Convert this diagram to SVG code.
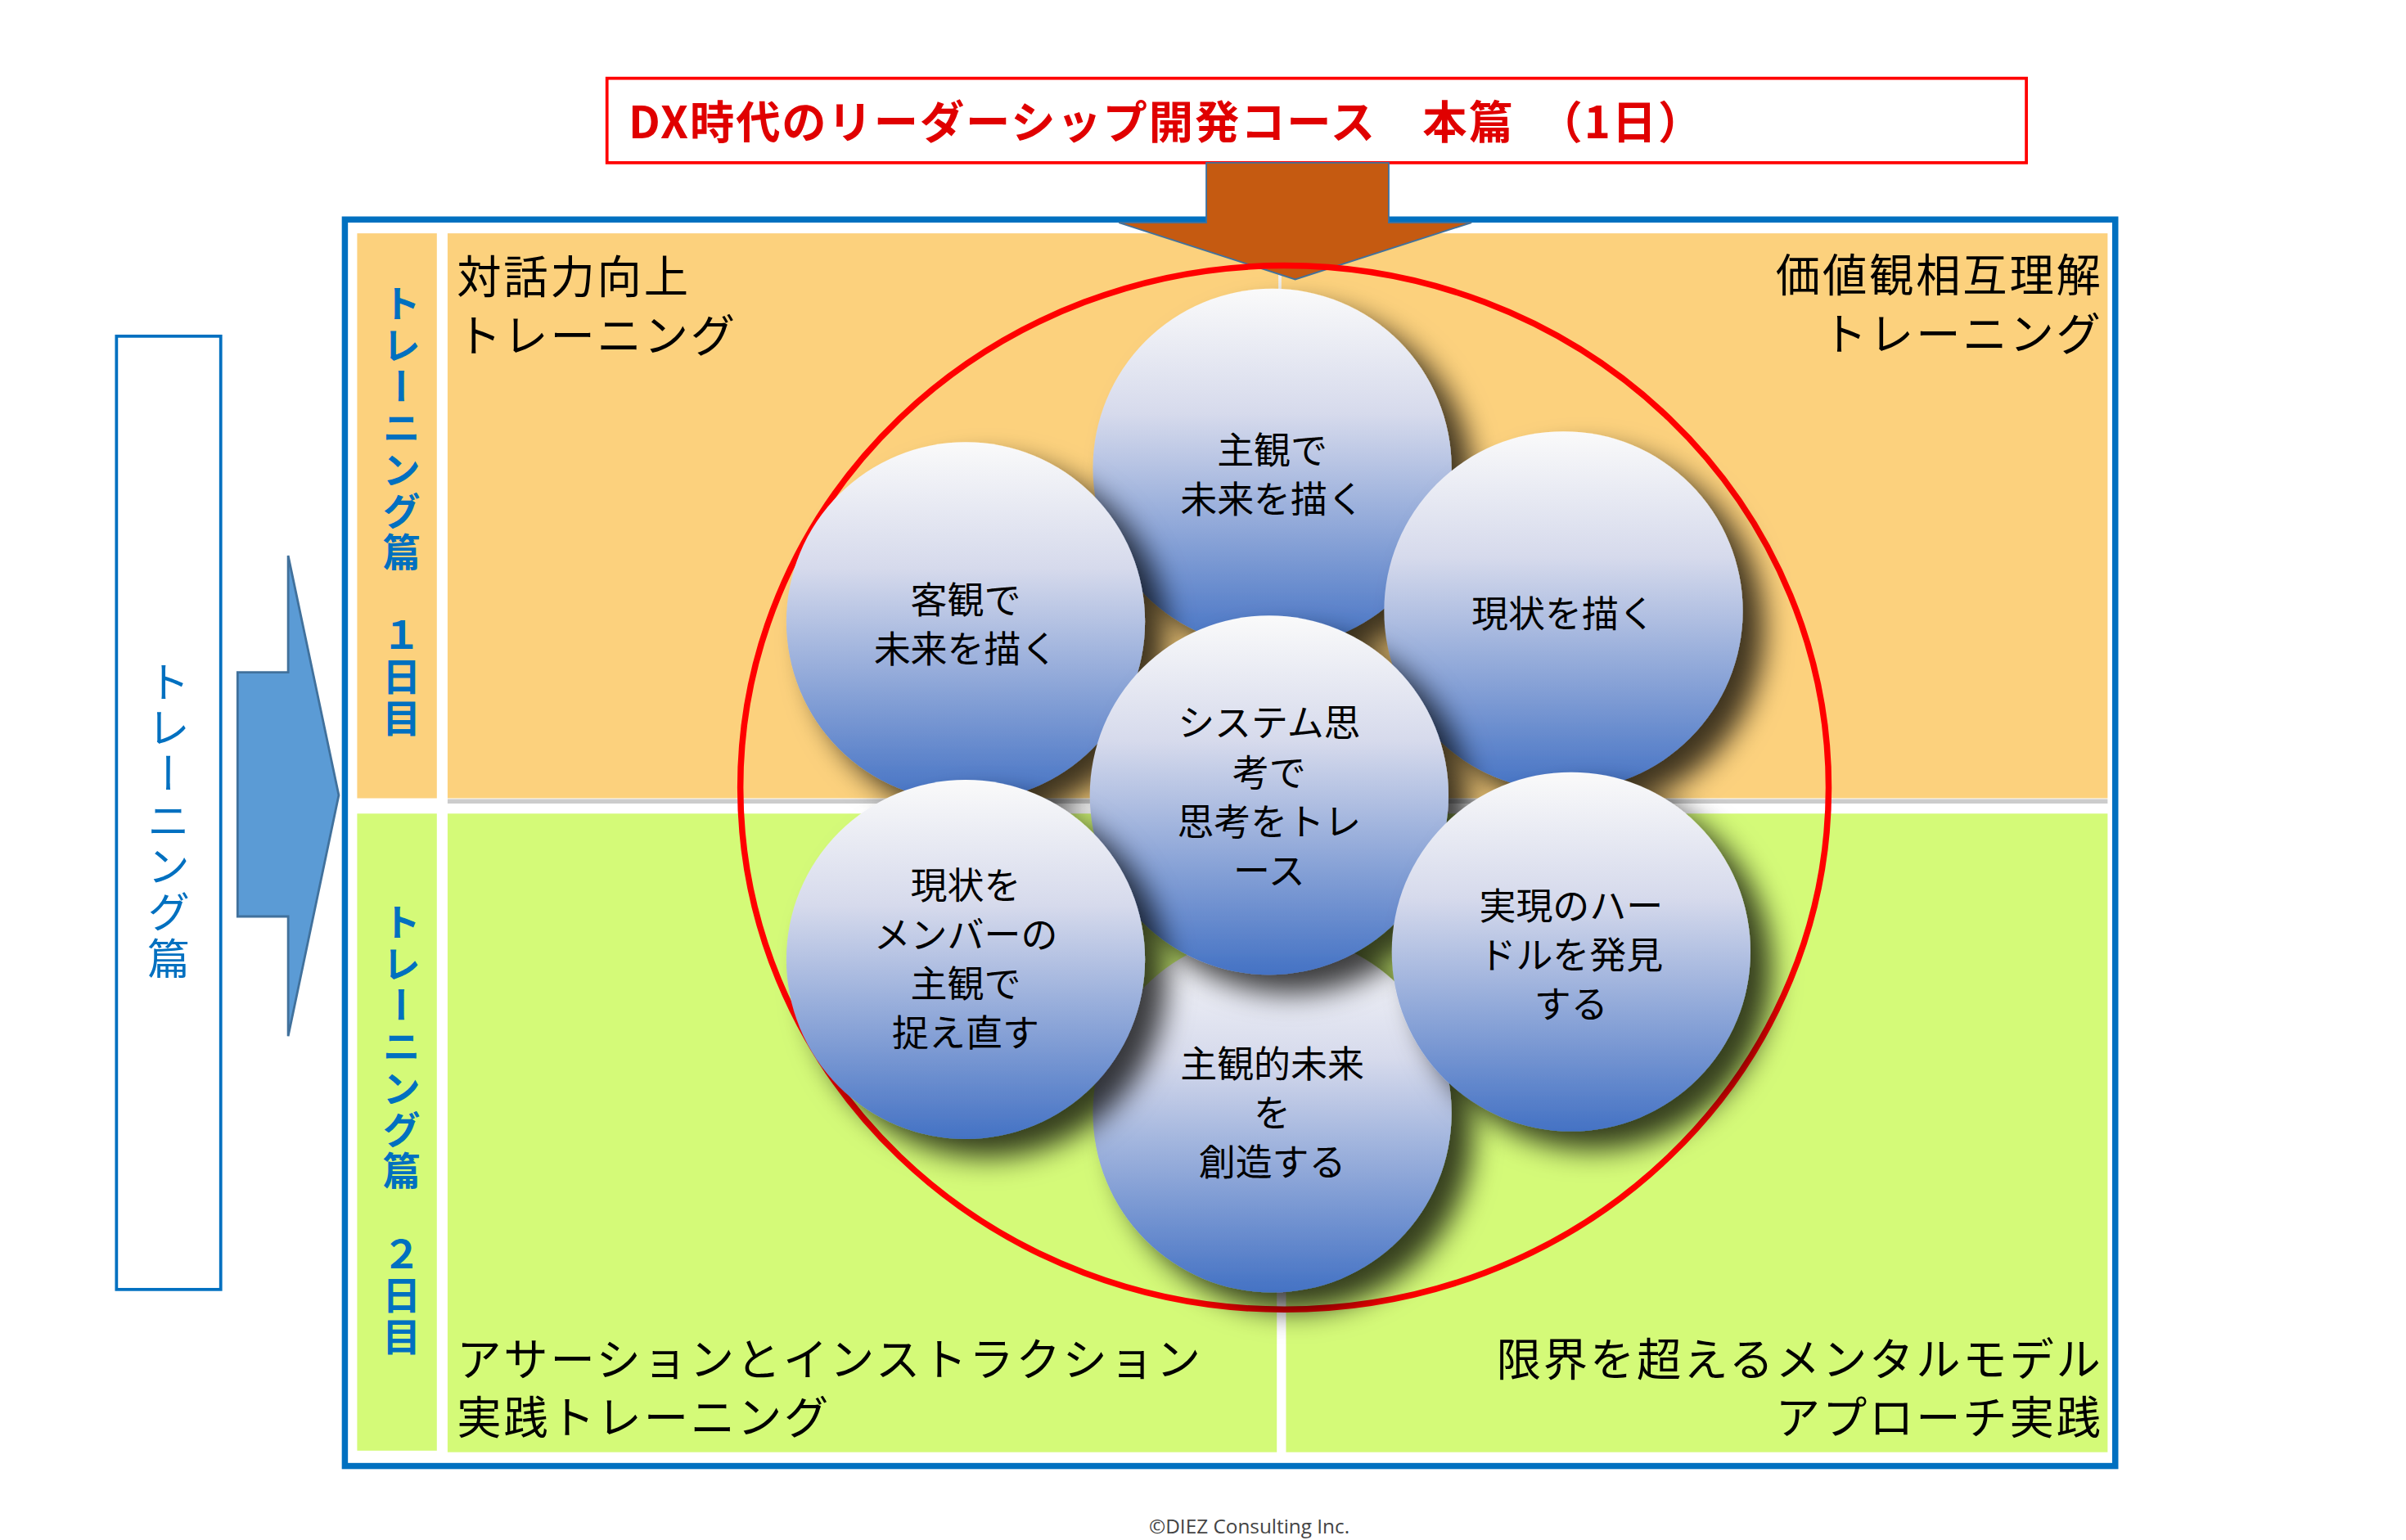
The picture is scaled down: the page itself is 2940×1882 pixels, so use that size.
<svg xmlns="http://www.w3.org/2000/svg" width="2940" height="1882" viewBox="0 0 2940 1882">
<defs>
<style>
.jp{font-family:"Noto Sans CJK JP","Noto Sans",sans-serif}
.q{font-size:29px;fill:#000;letter-spacing:1.5px}
.b{font-size:24px;fill:#000;text-anchor:middle}
.v{font-size:25px;font-weight:bold;fill:#0070C0;writing-mode:tb;letter-spacing:2px}
</style>
<linearGradient id="g" x1="0" y1="0" x2="0" y2="1">
<stop offset="0" stop-color="#FAFAFA"/><stop offset="0.35" stop-color="#D6DAEC"/><stop offset="1" stop-color="#4472C4"/>
</linearGradient>
<filter id="sh" x="-30%" y="-30%" width="170%" height="170%">
<feDropShadow dx="14" dy="12" stdDeviation="9" flood-color="#000" flood-opacity="0.75"/>
</filter>
</defs>
<rect width="2940" height="1882" fill="#fff"/>
<g transform="scale(1.873,1.876)">
<g id="frame">
<rect x="225" y="143" width="1155" height="812" fill="#fff" stroke="#0070C0" stroke-width="4"/>
<rect x="233" y="152" width="52" height="368" fill="#FCD17D"/>
<rect x="233" y="530" width="52" height="415" fill="#D4FA78"/>
<rect x="292" y="152" width="1083" height="368" fill="#FCD17D"/>
<rect x="292" y="530" width="541" height="416" fill="#D4FA78"/>
<rect x="839" y="530" width="536" height="416" fill="#D4FA78"/>
<line x1="292" y1="522" x2="1375" y2="522" stroke="#ccc" stroke-width="3"/>
<line x1="835" y1="152" x2="835" y2="520" stroke="#eee" stroke-width="2"/>
<text class="jp v" x="262" y="185">トレーニング篇　１日目</text>
<text class="jp v" x="262" y="588">トレーニング篇　２日目</text>
</g>
<g id="quadrant-labels" class="jp q">
<text x="298" y="191">対話力向上</text>
<text x="298" y="229">トレーニング</text>
<text x="1372" y="190" text-anchor="end">価値観相互理解</text>
<text x="1372" y="228" text-anchor="end">トレーニング</text>
<text x="298" y="896">アサーションとインストラクション</text>
<text x="298" y="934">実践トレーニング</text>
<text x="1372" y="896" text-anchor="end">限界を超えるメンタルモデル</text>
<text x="1372" y="934" text-anchor="end">アプローチ実践</text>
</g>
<g id="title">
<rect x="396" y="51" width="926" height="55" fill="#fff" stroke="#FF0000" stroke-width="2"/>
<text class="jp" x="410" y="90" font-size="29" font-weight="bold" fill="#E00000" letter-spacing="1">DX時代のリーダーシップ開発コース　本篇　（1日）</text>
</g>
<g id="down-arrow">
<polygon points="787,106 906,106 906,145 960,145 845,182 730,145 787,145" fill="#C55A11" stroke="#41719C" stroke-width="1"/>
</g>
<g id="left-box">
<rect x="76" y="219" width="68" height="621" fill="#fff" stroke="#0070C0" stroke-width="2"/>
<text class="jp" x="110" y="430" font-size="28" fill="#0070C0" style="writing-mode:tb" letter-spacing="2">トレーニング篇</text>
</g>
<g id="right-arrow">
<polygon points="155,438 188,438 188,362 221,518 188,675 188,597 155,597" fill="#5B9BD5" stroke="#41719C" stroke-width="1.5"/>
</g>
<g id="ring"><ellipse cx="838" cy="513" rx="355" ry="340" fill="none" stroke="#FF0000" stroke-width="4"/></g>
<g id="n-top"><circle cx="830" cy="305" r="117" fill="url(#g)" filter="url(#sh)"/>
<text class="jp b" x="830" y="302">主観で</text><text class="jp b" x="830" y="334">未来を描く</text></g>
<g id="n-lefttop"><circle cx="630" cy="405" r="117" fill="url(#g)" filter="url(#sh)"/>
<text class="jp b" x="630" y="400">客観で</text><text class="jp b" x="630" y="432">未来を描く</text></g>
<g id="n-righttop"><circle cx="1020" cy="398" r="117" fill="url(#g)" filter="url(#sh)"/>
<text class="jp b" x="1020" y="409">現状を描く</text></g>
<g id="n-bottom"><circle cx="830" cy="725" r="117" fill="url(#g)" filter="url(#sh)"/>
<text class="jp b" x="830" y="702">主観的未来</text><text class="jp b" x="830" y="734">を</text><text class="jp b" x="830" y="766">創造する</text></g>
<g id="n-center"><circle cx="828" cy="518" r="117" fill="url(#g)" filter="url(#sh)"/>
<text class="jp b" x="828" y="480">システム思</text><text class="jp b" x="828" y="512">考で</text><text class="jp b" x="828" y="544">思考をトレ</text><text class="jp b" x="828" y="576">ース</text></g>
<g id="n-leftbottom"><circle cx="630" cy="625" r="117" fill="url(#g)" filter="url(#sh)"/>
<text class="jp b" x="630" y="586">現状を</text><text class="jp b" x="630" y="618">メンバーの</text><text class="jp b" x="630" y="650">主観で</text><text class="jp b" x="630" y="682">捉え直す</text></g>
<g id="n-rightbottom"><circle cx="1025" cy="620" r="117" fill="url(#g)" filter="url(#sh)"/>
<text class="jp b" x="1025" y="599">実現のハー</text><text class="jp b" x="1025" y="631">ドルを発見</text><text class="jp b" x="1025" y="663">する</text></g>
<g id="connectors"/>
<text x="815" y="999" font-family="'Open Sans','Liberation Sans',sans-serif" font-size="13" fill="#444" text-anchor="middle">©DIEZ Consulting Inc.</text>
</g>
</svg>
